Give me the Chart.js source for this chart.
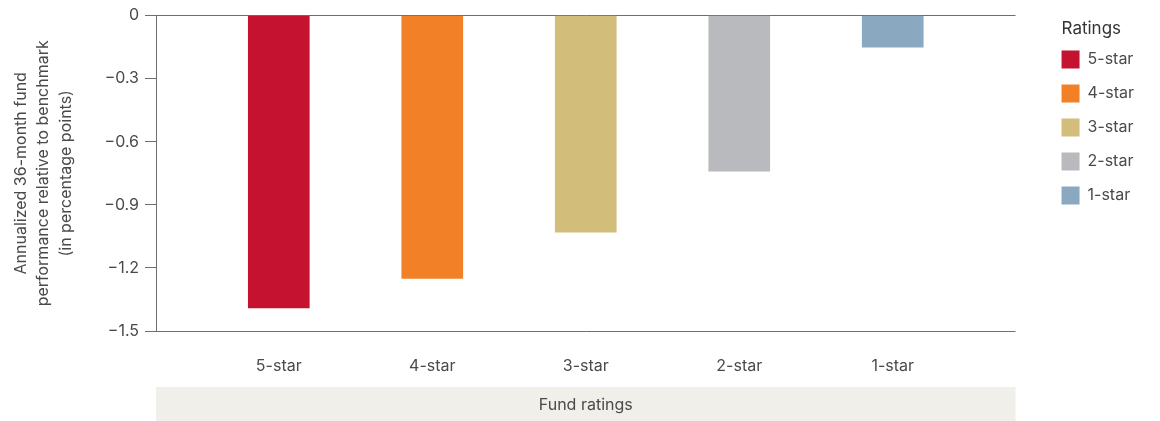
<!DOCTYPE html>
<html>
<head>
<meta charset="utf-8">
<script src="https://cdn.jsdelivr.net/npm/chart.js@4.4.1/dist/chart.umd.min.js"></script>
<style>
  html, body { margin: 0; padding: 0; background: #fff; }
  #wrap { width: 1160px; height: 421px; position: relative; }
</style>
</head>
<body>
<div id="wrap"><canvas id="chart"></canvas></div>
<script>
(function () {
  "use strict";
  const categories = ["5-star", "4-star", "3-star", "2-star", "1-star"];
  const values = [-1.39, -1.25, -1.03, -0.74, -0.15];
  const colors = ["#c41230", "#f28026", "#d3bd7a", "#b9babe", "#8aa8c0"];
  const yTitle = ["Annualized 36-month fund", "performance relative to benchmark", "(in percentage points)"];
  const xTitle = "Fund ratings";
  const legendTitle = "Ratings";

  const TEXT = "#4a4a4a";
  const AXIS = "#6e6e6e";
  const FONT = "Inter, 'Noto Sans', sans-serif";
  Chart.defaults.font.family = FONT;
  Chart.defaults.color = TEXT;

  const fmtY = (v) => (Math.abs(v) < 1e-9 ? "0" : "\u2212" + Math.abs(v).toFixed(1));

  // light band behind the x-axis title
  const bandPlugin = {
    id: "band",
    beforeDraw(chart) {
      const { ctx, chartArea } = chart;
      ctx.save();
      ctx.fillStyle = "#f0efea";
      ctx.fillRect(chartArea.left, chartArea.bottom + 56, chartArea.right - chartArea.left, chart.height - chartArea.bottom - 56);
      ctx.restore();
    },
  };

  // legend title drawn flush with the legend boxes (the built-in one sits at the legend's edge)
  const legendTitlePlugin = {
    id: "legendTitle",
    afterDraw(chart) {
      const boxes = chart.legend && chart.legend.legendHitBoxes;
      if (!boxes || !boxes.length) return;
      const ctx = chart.ctx;
      ctx.save();
      ctx.font = "17px " + FONT;
      ctx.fillStyle = "#333";
      ctx.textAlign = "left";
      ctx.textBaseline = "middle";
      ctx.fillText(legendTitle, boxes[0].left, boxes[0].top - 22);
      ctx.restore();
    },
  };

  const ctx = document.getElementById("chart").getContext("2d");
  new Chart(ctx, {
    type: "bar",
    data: {
      datasets: [{
        data: categories.map((c, i) => ({ x: i, y: values[i] })),
        backgroundColor: colors,
        barThickness: 61,
        borderWidth: 0,
      }],
    },
    options: {
      responsive: true, maintainAspectRatio: false, animation: false,
      layout: { padding: { top: 8, left: 0, right: 16, bottom: 0 } },
      scales: {
        x: {
          type: "linear", min: -0.8, max: 4.8, offset: false,
          afterBuildTicks: (axis) => { axis.ticks = categories.map((c, i) => ({ value: i })); },
          afterFit: (s) => { s.height = 90; },
          ticks: {
            callback: (v) => categories[v], color: TEXT, padding: 18,
            font: { size: 16 }, maxRotation: 0, autoSkip: false,
          },
          grid: { display: false, offset: false },
          border: { display: false },
          title: { display: true, text: xTitle, color: TEXT, font: { size: 16 }, padding: { top: 0, bottom: 6 } },
        },
        y: {
          min: -1.5, max: 0,
          afterFit: (s) => { s.width = 156; },
          ticks: { stepSize: 0.3, callback: fmtY, color: TEXT, font: { size: 16 }, padding: 6 },
          grid: {
            drawOnChartArea: true, tickLength: 11, tickColor: AXIS, lineWidth: 1,
            color: (c) => (c.tick && (Math.abs(c.tick.value) < 1e-9 || Math.abs(c.tick.value + 1.5) < 1e-9) ? AXIS : "transparent"),
          },
          border: { display: true, color: AXIS, width: 1 },
          title: { display: true, text: yTitle, color: TEXT, font: { size: 16, lineHeight: 1.4 }, padding: { top: 10, bottom: 4 } },
        },
        gap: {
          type: "linear", position: "right", display: true,
          afterFit: (s) => { s.width = 30; },
          ticks: { display: false }, grid: { display: false }, border: { display: false },
        },
      },
      plugins: {
        legend: {
          position: "right", align: "start",
          onClick: null,
          // keeps the room for the title; the visible text comes from legendTitlePlugin
          title: { display: true, text: legendTitle, color: "rgba(0,0,0,0)", position: "start", font: { size: 17 }, padding: { top: 12, bottom: -6 } },
          labels: {
            boxWidth: 18, boxHeight: 18, padding: 16, color: TEXT, font: { size: 16 },
            generateLabels: () => categories.map((c, i) => ({
              text: c, fillStyle: colors[i], strokeStyle: colors[i], fontColor: TEXT,
              lineWidth: 0, hidden: false, index: i,
            })),
          },
        },
        tooltip: { enabled: false },
      },
    },
    plugins: [bandPlugin, legendTitlePlugin],
  });
})();
</script>
</body>
</html>
